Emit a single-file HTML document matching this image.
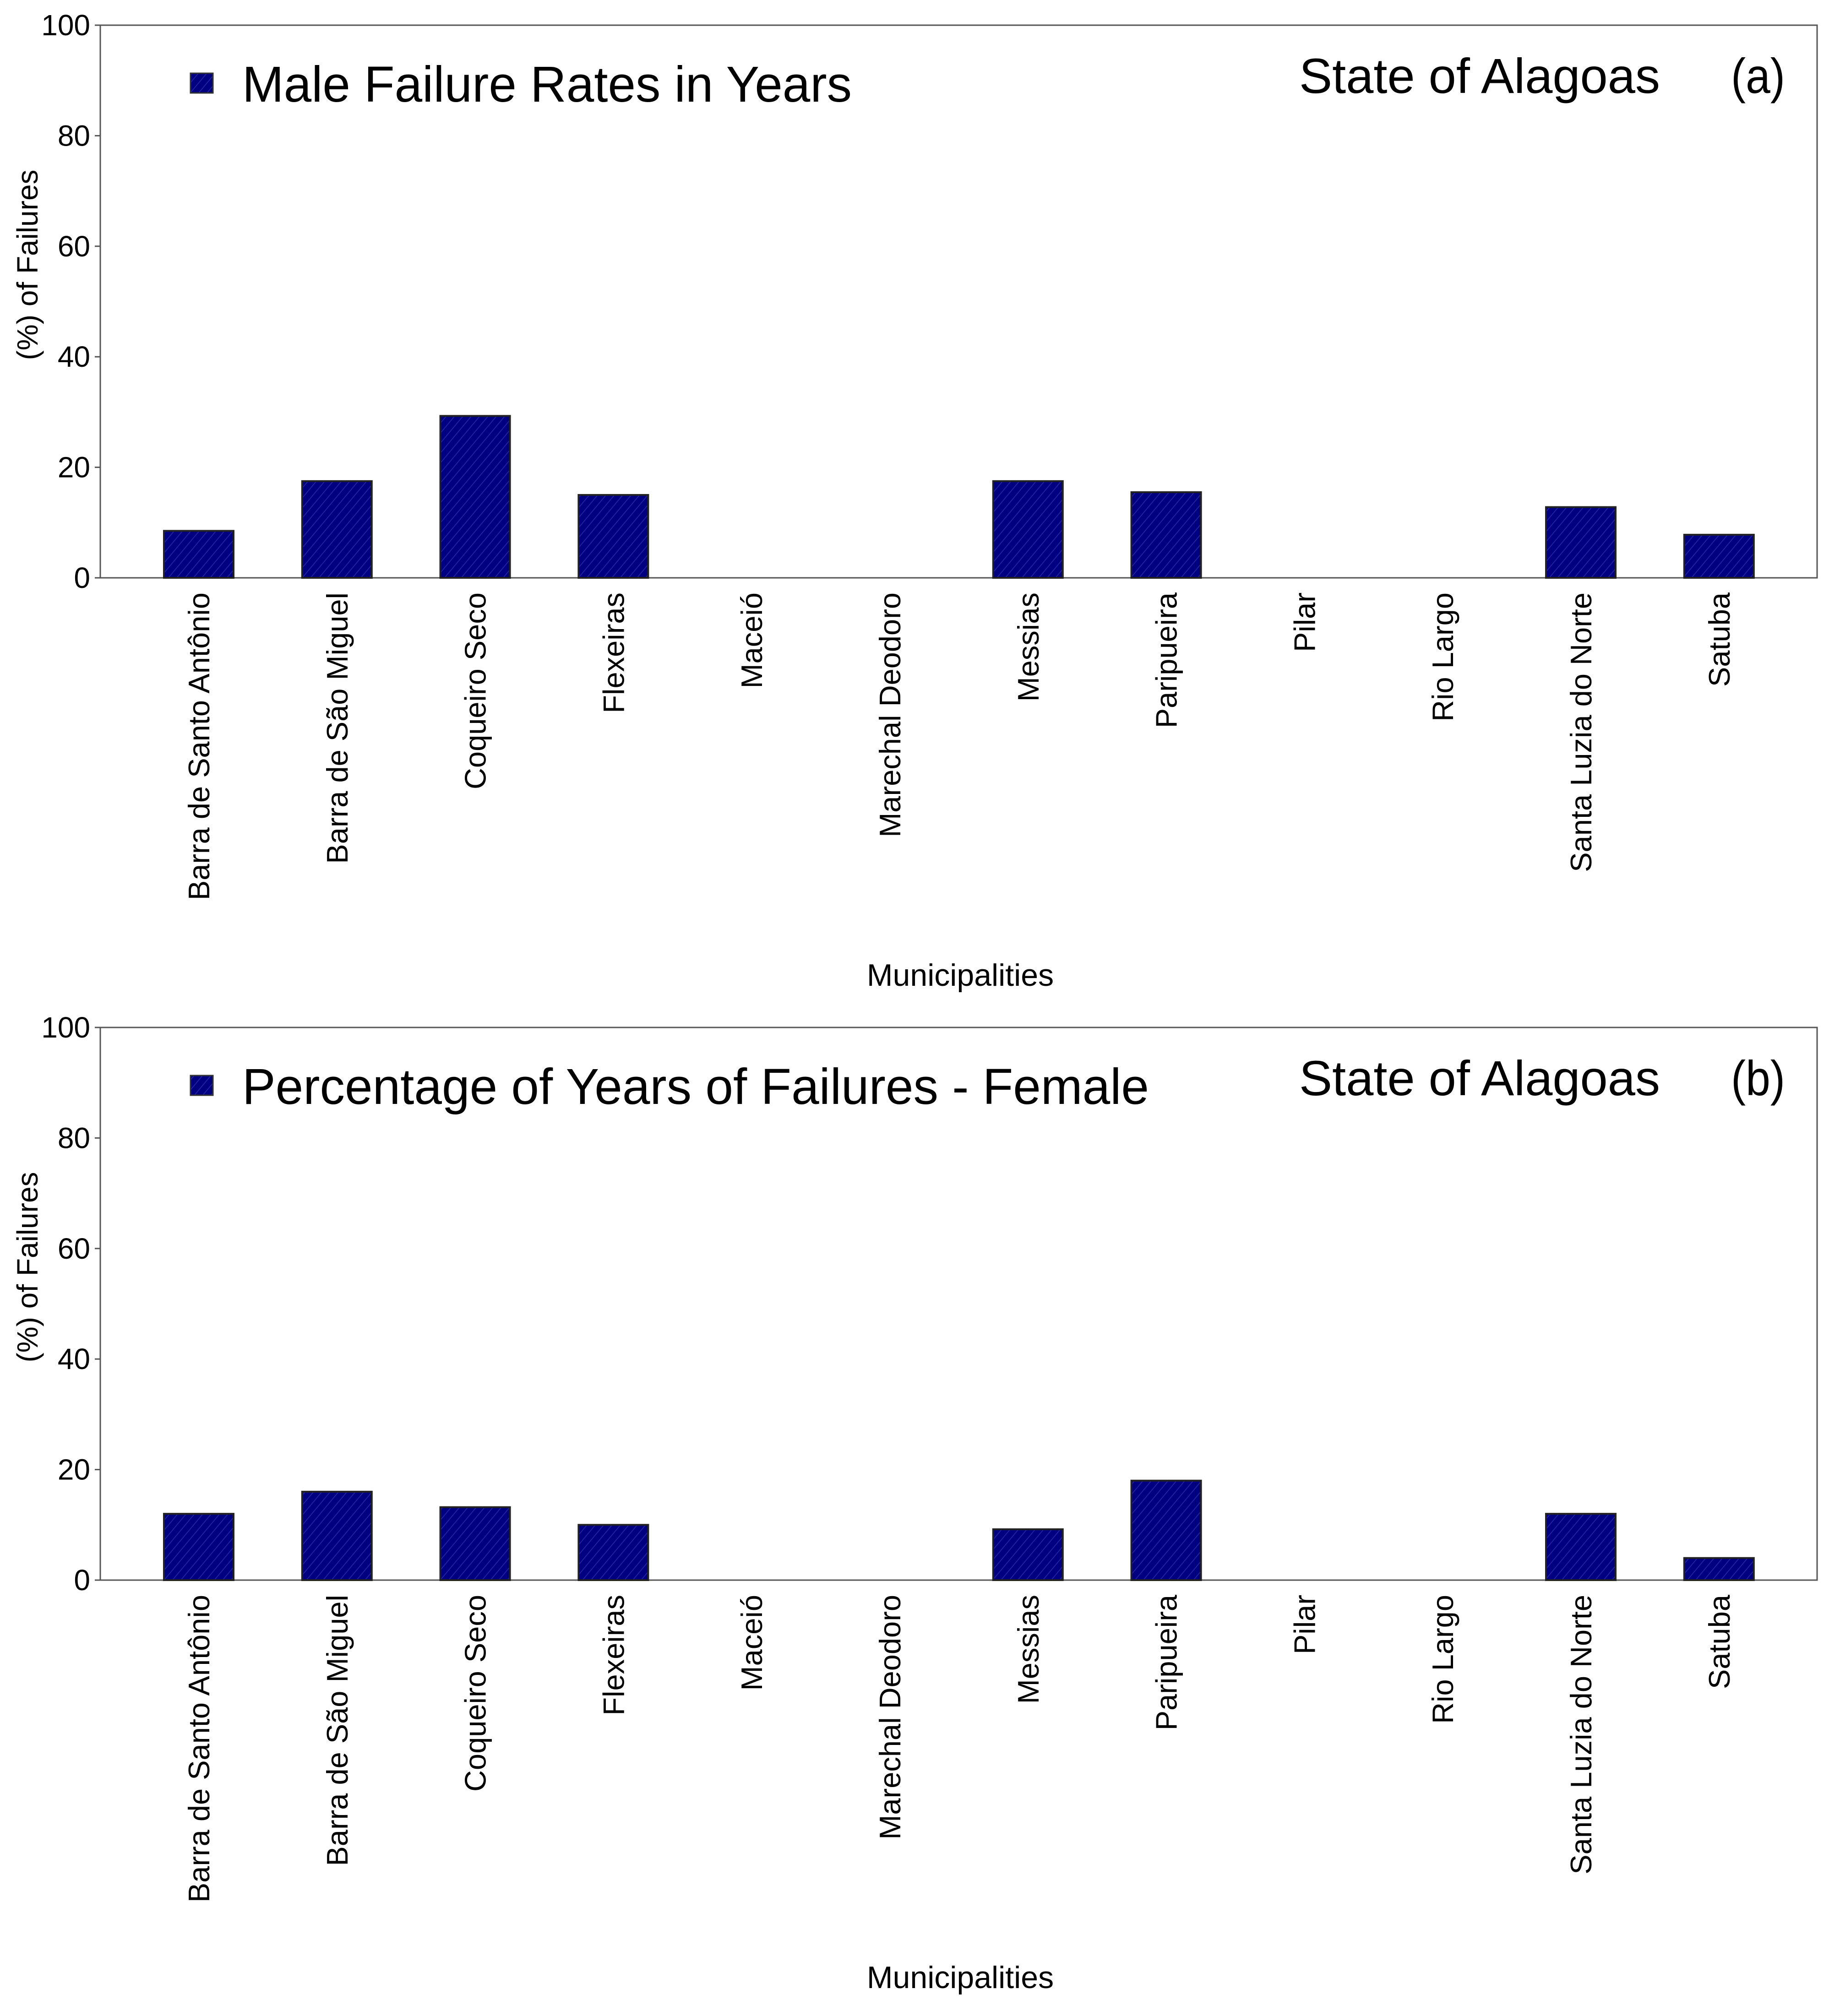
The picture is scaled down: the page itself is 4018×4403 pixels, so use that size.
<!DOCTYPE html>
<html><head><meta charset="utf-8"><style>
html,body{margin:0;padding:0;background:#fff}
svg{display:block;font-family:"Liberation Sans",Arial,sans-serif}
</style></head><body>
<svg id="chart" width="4018" height="4403" viewBox="0 0 4018 4403" xmlns="http://www.w3.org/2000/svg">
<defs>
<pattern id="hatch" patternUnits="userSpaceOnUse" width="14" height="14" patternTransform="rotate(40)">
<rect width="14" height="14" fill="#000080"/>
<line x1="0" y1="0" x2="0" y2="14" stroke="#2a2aa8" stroke-width="3"/>
</pattern>
</defs>
</svg>
<script>
const categories = ["Barra de Santo Antônio","Barra de São Miguel","Coqueiro Seco","Flexeiras","Maceió","Marechal Deodoro","Messias","Paripueira","Pilar","Rio Largo","Santa Luzia do Norte","Satuba"];
const maleValues = [8.5,17.5,29.3,15,0,0,17.5,15.5,0,0,12.8,7.8];
const femaleValues = [12,16,13.2,10,0,0,9.2,18,0,0,12,4];
const yTicks = [0,20,40,60,80,100];
const panelTitles = ["Male Failure Rates in Years","Percentage of Years of Failures - Female"];
const panelLetters = ["(a)","(b)"];

const NS="http://www.w3.org/2000/svg";
const svg=document.getElementById('chart');
function mk(tag,attrs,parent,text){const e=document.createElementNS(NS,tag);for(const k in attrs)e.setAttribute(k,attrs[k]);if(text!==undefined)e.textContent=text;(parent||svg).appendChild(e);return e;}

const L=219,R=3968,plotTopA=55,plotBotA=1262,offset=2189;
function drawPanel(idx,values,legendLen){
  const dy=idx*offset, top=plotTopA+dy, bot=plotBotA+dy;
  const g=mk('g',{});
  
  
  const yScale=v=>bot-(v/100)*(bot-top);
  const xCenter=i=>434+i*301.8;
  const bw=152;
  const frame=mk('rect',{x:L,y:top,width:R-L,height:bot-top,fill:'none',stroke:'#555',"stroke-width":3},g);
  
  
  yTicks.forEach(t=>{
    const y=yScale(t);
    const tk=mk('line',{x1:L-12,x2:L,y1:y,y2:y,stroke:'#555',"stroke-width":3},g);
    
    
    const tl=mk('text',{x:L-22,y:y+22,"text-anchor":"end","font-size":64,fill:'#000'},g,String(t));
    
    
  });
  values.forEach((v,i)=>{
    if(v>0){
      const b=mk('rect',{x:xCenter(i)-bw/2,y:yScale(v),width:bw,height:bot-yScale(v),fill:'url(#hatch)',stroke:'#222',"stroke-width":4},g);
      
      
    }
    const cx=xCenter(i)+23, ty=bot+32;
    const lab=mk('text',{x:cx,y:ty,"text-anchor":"end","font-size":65,fill:'#000',transform:`rotate(-90 ${cx} ${ty})`},g,categories[i]);
    
    
  });
  const yt=mk('text',{x:82,y:(top+bot)/2-80,"text-anchor":"middle","font-size":64,transform:`rotate(-90 82 ${(top+bot)/2-80})`},g,'(%) of Failures');
  
  
  const xt=mk('text',{x:2097,y:2153+dy,"text-anchor":"middle","font-size":68},g,'Municipalities');
  
  
  const sw=mk('rect',{x:416,y:160+dy,width:49,height:43,fill:'url(#hatch)',stroke:'#333',"stroke-width":3},g);
  
  
  const lt=mk('text',{x:529,y:222+dy,"font-size":110,textLength:legendLen,lengthAdjust:'spacingAndGlyphs'},g,panelTitles[idx]);
  
  
  const st=mk('text',{x:2837,y:203+dy,"font-size":108,textLength:788,lengthAdjust:'spacingAndGlyphs'},g,'State of Alagoas');
  
  
  const pl=mk('text',{x:3780,y:203+dy,"font-size":108,textLength:118,lengthAdjust:'spacingAndGlyphs'},g,panelLetters[idx]);
  
  
}
drawPanel(0,maleValues,1331);
drawPanel(1,femaleValues,1980);
</script>
</body></html>
